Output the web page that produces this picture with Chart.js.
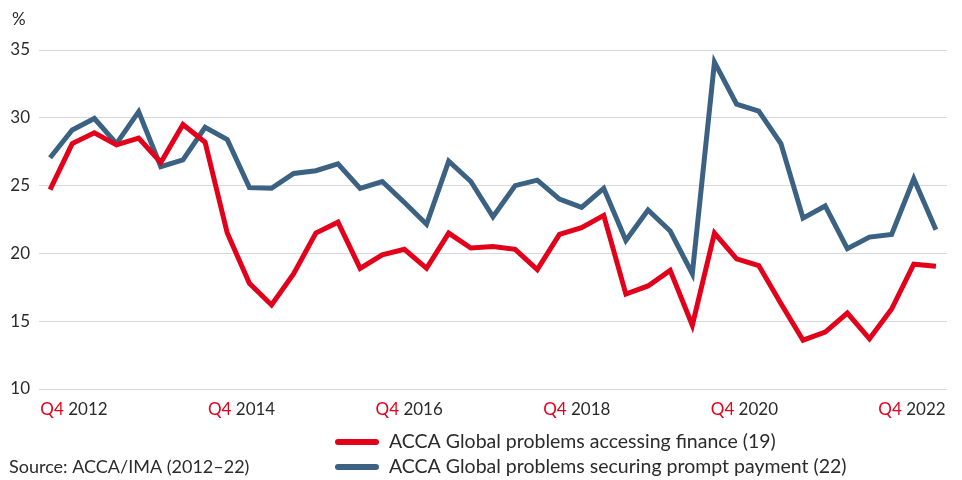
<!DOCTYPE html>
<html>
<head>
<meta charset="utf-8">
<script src="https://cdn.jsdelivr.net/npm/chart.js@4/dist/chart.umd.min.js"></script>
<style>
  html, body { margin: 0; padding: 0; background: #fff; }
  #wrap { width: 962px; height: 480px; position: relative; }
</style>
</head>
<body>
<div id="wrap"><canvas id="c"></canvas></div>
<script>
// Quarterly series, Q4 2012 .. Q4 2022
const quarters = ['Q4 2012'];
for (let y = 2013; y <= 2022; y++) {
    ['Q1', 'Q2', 'Q3', 'Q4'].forEach(q => quarters.push(q + ' ' + y));
}

const financeValues = [
    24.7, 28.1, 28.9, 28.0, 28.5, 26.7, 29.5, 28.2, 21.5, 17.8,
    16.2, 18.5, 21.5, 22.3, 18.9, 19.9, 20.3, 18.9, 21.5, 20.4,
    20.5, 20.3, 18.8, 21.4, 21.9, 22.8, 17.0, 17.6, 18.75, 14.7,
    21.5, 19.6, 19.1, 16.3, 13.6, 14.2, 15.6, 13.7, 15.9, 19.2,
    19.05
];
const paymentValues = [
    27.05, 29.1, 29.95, 28.1, 30.45, 26.4, 26.9, 29.3, 28.4, 24.85,
    24.8, 25.9, 26.1, 26.6, 24.8, 25.3, 23.75, 22.15, 26.8, 25.3,
    22.7, 25.0, 25.4, 24.0, 23.4, 24.8, 20.95, 23.2, 21.65, 18.5,
    34.1, 31.0, 30.5, 28.1, 22.6, 23.5, 20.35, 21.2, 21.4, 25.5,
    21.75
];
const axisLabels = [['Q4', '2012'], ['Q4', '2014'], ['Q4', '2016'], ['Q4', '2018'], ['Q4', '2020'], ['Q4', '2022']];
const yTicks = [10, 15, 20, 25, 30, 35];
const seriesNames = [
    'ACCA Global problems accessing finance (19)',
    'ACCA Global problems securing prompt payment (22)'
];
const sourceText = 'Source: ACCA/IMA (2012\u201322)';

const RED = '#e3001b';
const BLUE = '#3b6282';
const TEXT = '#2b2b2b';
const FONT = 'Lato, "Open Sans", sans-serif';

// Draws the two-colour x labels, the % unit, legend and source line
const extrasPlugin = {
    id: 'extras',
    afterDraw: (chart) => {
        const {ctx, chartArea} = chart;
        ctx.save();
        ctx.font = '17px ' + FONT;
        ctx.textBaseline = 'middle';
        ctx.textAlign = 'left';

        // unit
        ctx.fillStyle = TEXT;
        ctx.fillText('%', 12, 20);

        // x labels, spread evenly across the plot
        const first = chartArea.left + 35;
        const step = (chartArea.width - 70) / (axisLabels.length - 1);
        axisLabels.forEach((lab, i) => {
            const q = lab[0] + ' ';
            const w = ctx.measureText(q + lab[1]).width;
            const x0 = first + i * step - w / 2;
            ctx.fillStyle = RED;
            ctx.fillText(q, x0, 410);
            ctx.fillStyle = TEXT;
            ctx.fillText(lab[1], x0 + ctx.measureText(q).width, 410);
        });

        // legend
        ctx.font = '19.5px ' + FONT;
        const colors = [RED, BLUE];
        seriesNames.forEach((name, i) => {
            const y = 442 + i * 25;
            ctx.strokeStyle = colors[i];
            ctx.lineWidth = 6;
            ctx.lineCap = 'round';
            ctx.beginPath();
            ctx.moveTo(338, y);
            ctx.lineTo(376, y);
            ctx.stroke();
            ctx.fillStyle = TEXT;
            ctx.fillText(name, 389, y);
        });

        // source
        ctx.font = '18px ' + FONT;
        ctx.fillText(sourceText, 9, 467);
        ctx.restore();
    }
};

new Chart(document.getElementById('c'), {
    type: 'line',
    data: {
        labels: quarters,
        datasets: [
            {
                label: seriesNames[0],
                data: financeValues,
                borderColor: RED,
                borderWidth: 5,
                pointRadius: 0,
                tension: 0,
                borderJoinStyle: 'miter'
            },
            {
                label: seriesNames[1],
                data: paymentValues,
                borderColor: BLUE,
                borderWidth: 5,
                pointRadius: 0,
                tension: 0,
                borderJoinStyle: 'miter'
            }
        ]
    },
    options: {
        responsive: true,
        maintainAspectRatio: false,
        animation: false,
        layout: { padding: { top: 50, right: 15, left: 0, bottom: 0 } },
        scales: {
            x: {
                type: 'category',
                offset: true,
                grid: { display: false },
                border: { display: false },
                ticks: { display: false },
                afterFit: (s) => { s.height = 91; }
            },
            y: {
                min: 10,
                max: 35,
                afterBuildTicks: (s) => { s.ticks = yTicks.map(v => ({ value: v })); },
                grid: { color: '#d9d9d9', lineWidth: 1, drawTicks: false },
                border: { display: false },
                ticks: {
                    color: TEXT,
                    padding: 9,
                    font: { family: FONT, size: 17 }
                },
                afterFit: (s) => { s.width = 39; }
            }
        },
        plugins: {
            legend: { display: false },
            tooltip: { enabled: false }
        }
    },
    plugins: [extrasPlugin]
});
</script>
</body>
</html>
